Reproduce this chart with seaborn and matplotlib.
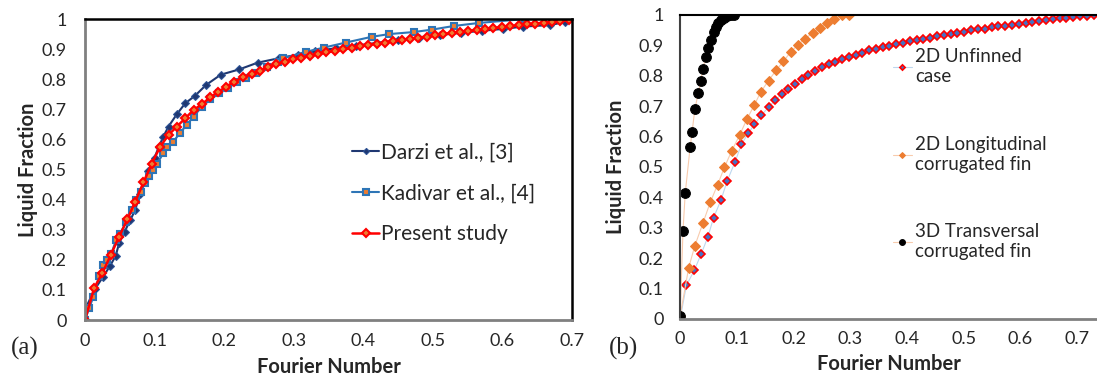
import numpy as np
import pandas as pd
import matplotlib
matplotlib.use("Agg")
import matplotlib.pyplot as plt
import seaborn as sns

# ---- panel (a) data ----
darzi_x = [0.0, 0.001, 0.014, 0.026, 0.036, 0.044, 0.049, 0.057, 0.065, 0.072, 0.079, 0.085,
           0.091, 0.1, 0.106, 0.1125, 0.12, 0.132, 0.144, 0.158, 0.174, 0.195, 0.222, 0.248,
           0.279, 0.306, 0.33, 0.36, 0.39, 0.42, 0.45, 0.48, 0.51, 0.54, 0.57, 0.6, 0.63,
           0.668, 0.69]
darzi_y = [0.0, 0.04, 0.102, 0.144, 0.18, 0.213, 0.255, 0.294, 0.332, 0.365, 0.42, 0.46,
           0.494, 0.54, 0.575, 0.609, 0.643, 0.684, 0.72, 0.745, 0.781, 0.815, 0.833, 0.855,
           0.87, 0.882, 0.893, 0.903, 0.912, 0.921, 0.93, 0.938, 0.947, 0.954, 0.961, 0.967,
           0.975, 0.98, 0.99]

kadivar_x = [0.0, 0.006, 0.012, 0.02, 0.026, 0.032, 0.038, 0.0445, 0.05, 0.059, 0.067, 0.073,
             0.08, 0.086, 0.092, 0.098, 0.104, 0.1125, 0.118, 0.127, 0.136, 0.146, 0.156,
             0.168, 0.18, 0.192, 0.205, 0.218, 0.232, 0.246, 0.262, 0.278, 0.285, 0.317,
             0.343, 0.375, 0.412, 0.437, 0.473, 0.499, 0.53, 0.566, 0.632]
kadivar_y = [0.0, 0.04, 0.077, 0.145, 0.183, 0.2, 0.221, 0.266, 0.285, 0.326, 0.365, 0.399,
             0.425, 0.454, 0.48, 0.5, 0.52, 0.555, 0.575, 0.593, 0.62, 0.648, 0.676, 0.709,
             0.733, 0.753, 0.77, 0.79, 0.805, 0.82, 0.84, 0.858, 0.87, 0.891, 0.905, 0.922,
             0.941, 0.95, 0.957, 0.965, 0.977, 0.987, 1.0]

present_x = [0.0, 0.013, 0.025, 0.037, 0.049, 0.061, 0.072, 0.084, 0.096, 0.108, 0.12, 0.132,
             0.144, 0.156, 0.168, 0.18, 0.191, 0.203, 0.214, 0.227, 0.24, 0.251, 0.263, 0.275,
             0.287, 0.299, 0.311, 0.323, 0.335, 0.347, 0.359, 0.371, 0.383, 0.395, 0.407,
             0.419, 0.431, 0.443, 0.455, 0.467, 0.479, 0.491, 0.503, 0.515, 0.527, 0.539,
             0.551, 0.563, 0.575, 0.587, 0.599, 0.611, 0.623, 0.635, 0.647, 0.659, 0.671,
             0.683, 0.695]
present_y = [0.0, 0.106, 0.156, 0.216, 0.277, 0.335, 0.393, 0.457, 0.52, 0.576, 0.615, 0.643,
             0.67, 0.698, 0.717, 0.74, 0.758, 0.775, 0.792, 0.806, 0.818, 0.829, 0.84, 0.85,
             0.858, 0.866, 0.872, 0.878, 0.884, 0.889, 0.894, 0.899, 0.904, 0.909, 0.914,
             0.918, 0.922, 0.926, 0.93, 0.934, 0.938, 0.942, 0.946, 0.95, 0.954, 0.958,
             0.961, 0.964, 0.967, 0.97, 0.973, 0.976, 0.979, 0.982, 0.985, 0.988, 0.991,
             0.994, 0.997]

# ---- panel (b) data ----
unfinned_x = [0.0, 0.011, 0.025, 0.037, 0.049, 0.059, 0.072, 0.083, 0.097, 0.108, 0.12, 0.131,
              0.143, 0.156, 0.168, 0.179, 0.191, 0.203, 0.214, 0.226, 0.238, 0.25, 0.262,
              0.273, 0.286, 0.298, 0.31, 0.321, 0.333, 0.345, 0.357, 0.369, 0.381, 0.393,
              0.405, 0.417, 0.429, 0.441, 0.453, 0.465, 0.477, 0.489, 0.501, 0.513, 0.525,
              0.537, 0.549, 0.561, 0.573, 0.585, 0.597, 0.609, 0.621, 0.633, 0.645, 0.657,
              0.669, 0.681, 0.693, 0.705, 0.717, 0.729]
unfinned_y = [0.0, 0.11, 0.16, 0.213, 0.27, 0.333, 0.391, 0.454, 0.517, 0.574, 0.61, 0.64,
              0.669, 0.697, 0.72, 0.74, 0.757, 0.774, 0.789, 0.802, 0.814, 0.827, 0.837,
              0.846, 0.854, 0.861, 0.868, 0.876, 0.884, 0.889, 0.894, 0.899, 0.904, 0.909,
              0.913, 0.917, 0.921, 0.925, 0.929, 0.933, 0.937, 0.941, 0.945, 0.949, 0.952,
              0.955, 0.959, 0.962, 0.965, 0.968, 0.971, 0.974, 0.977, 0.98, 0.983, 0.986,
              0.989, 0.991, 0.993, 0.995, 0.997, 0.999]

longit_x = [0.0, 0.015, 0.026, 0.04, 0.053, 0.066, 0.078, 0.091, 0.105, 0.118, 0.131, 0.142,
            0.156, 0.169, 0.182, 0.195, 0.208, 0.22, 0.234, 0.247, 0.259, 0.272, 0.285, 0.297]
longit_y = [0.01, 0.168, 0.241, 0.314, 0.383, 0.441, 0.498, 0.553, 0.605, 0.658, 0.704, 0.746,
            0.784, 0.817, 0.847, 0.878, 0.902, 0.921, 0.941, 0.958, 0.973, 0.987, 0.999, 1.0]

transv_x = [0.0, 0.0, 0.0, 0.005, 0.009, 0.0176, 0.021, 0.021, 0.026, 0.032, 0.036, 0.04,
            0.045, 0.05, 0.054, 0.059, 0.063, 0.067, 0.072, 0.078, 0.083, 0.089, 0.095]
transv_y = [0.0, 0.01, 0.02, 0.289, 0.414, 0.564, 0.608, 0.62, 0.69, 0.743, 0.781, 0.822,
            0.86, 0.89, 0.918, 0.942, 0.96, 0.972, 0.982, 0.99, 0.995, 0.998, 1.0]

yticks = [0, 0.1, 0.2, 0.3, 0.4, 0.5, 0.6, 0.7, 0.8, 0.9, 1]
xticks = [0, 0.1, 0.2, 0.3, 0.4, 0.5, 0.6, 0.7]

sns.set_theme(style="white")
plt.rcParams['font.family'] = ['Lato', 'DejaVu Sans']

fig = plt.figure(figsize=(10.97, 3.81), dpi=100)
ax1 = fig.add_axes([0.0775, 0.16, 0.444, 0.79])
ax2 = fig.add_axes([0.62, 0.163, 0.38, 0.798])

# panel (a)
sns.lineplot(x=darzi_x, y=darzi_y, ax=ax1, sort=False, color='#1F3872', lw=1.5,
             marker='D', ms=4, mfc='#1F3872', mec='#2F5597', label='Darzi et al., [3]')
sns.lineplot(x=kadivar_x, y=kadivar_y, ax=ax1, sort=False, color='#2E75B6', lw=1.5,
             marker='s', ms=5, mfc='#ED7D31', mec='#2E75B6', mew=1.5, label='Kadivar et al., [4]')
sns.lineplot(x=present_x, y=present_y, ax=ax1, sort=False, color='#FF0000', lw=1.8,
             marker='D', ms=4.5, mfc='#ED7D31', mec='#FF0000', mew=1.5, label='Present study')

ax1.set_xlim(0, 0.7)
ax1.set_ylim(0, 1)
ax1.set_xticks(xticks)
ax1.set_xticklabels([f"{t:g}" for t in xticks])
ax1.set_yticks(yticks)
ax1.set_yticklabels([f"{t:g}" for t in yticks])
ax1.tick_params(axis='x', length=0, labelsize=13, pad=9)
ax1.tick_params(axis='y', length=0, labelsize=13, pad=13)
ax1.set_xlabel('Fourier Number', fontsize=14.5, fontweight='bold', labelpad=6)
ax1.set_ylabel('Liquid Fraction', fontsize=14.5, fontweight='bold', labelpad=3)
for s in ['left', 'bottom']:
    ax1.spines[s].set_color('#808080')
    ax1.spines[s].set_linewidth(2)
for s in ['top', 'right']:
    ax1.spines[s].set_color('black')
    ax1.spines[s].set_linewidth(1.8)
ax1.legend(loc='center left', bbox_to_anchor=(0.51, 0.42), frameon=False, fontsize=15,
           handlelength=1.3, handletextpad=0.1, labelspacing=1.0, markerscale=0.8)

# panel (b)
sns.lineplot(x=unfinned_x, y=unfinned_y, ax=ax2, sort=False, color='#BDD7EE', lw=0.8,
             marker='D', ms=4.5, mfc='#4472C4', mec='#FF0000', mew=1.2,
             label='2D Unfinned\ncase')
sns.lineplot(x=longit_x, y=longit_y, ax=ax2, sort=False, color='#F8CBAD', lw=0.8,
             marker='D', ms=5, mfc='#ED7D31', mec='#ED7D31',
             label='2D Longitudinal\ncorrugated fin')
sns.lineplot(x=transv_x, y=transv_y, ax=ax2, sort=False, color='#F8CBAD', lw=0.8,
             marker='o', ms=7, mfc='black', mec='black',
             label='3D Transversal\ncorrugated fin')

ax2.set_xlim(0, 0.735)
ax2.set_ylim(0, 1)
ax2.set_xticks(xticks)
ax2.set_xticklabels([f"{t:g}" for t in xticks])
ax2.set_yticks(yticks)
ax2.set_yticklabels([f"{t:g}" for t in yticks])
ax2.tick_params(axis='x', length=0, labelsize=13, pad=9)
ax2.tick_params(axis='y', length=0, labelsize=13, pad=12)
ax2.set_xlabel('Fourier Number', fontsize=14.5, fontweight='bold', labelpad=5)
ax2.set_ylabel('Liquid Fraction', fontsize=14.5, fontweight='bold', labelpad=9)
ax2.spines['left'].set_color('#404040')
ax2.spines['left'].set_linewidth(1.5)
ax2.spines['bottom'].set_color('#808080')
ax2.spines['bottom'].set_linewidth(2)
ax2.spines['top'].set_color('black')
ax2.spines['top'].set_linewidth(1.5)
ax2.spines['right'].set_visible(False)
ax2.legend(loc='upper left', bbox_to_anchor=(0.47, 0.945), frameon=False, fontsize=13.5,
           handlelength=1.0, handletextpad=0.2, labelspacing=2.7, markerscale=0.6)

fig.text(0.01, 0.07, '(a)', fontsize=18, family='Liberation Serif')
fig.text(0.555, 0.07, '(b)', fontsize=18, family='Liberation Serif')

fig.savefig('out.png', dpi=100)
